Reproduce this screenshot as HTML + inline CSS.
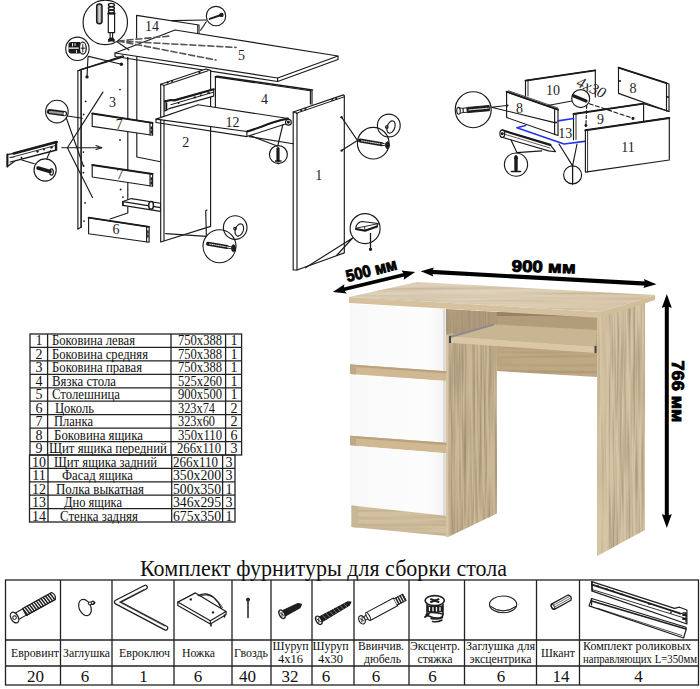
<!DOCTYPE html>
<html><head><meta charset="utf-8">
<style>
html,body{margin:0;padding:0;background:#fff;width:700px;height:689px;overflow:hidden}
svg{position:absolute;left:0;top:0}
.s{font-family:"Liberation Serif",serif;fill:#111}
.b{font-family:"Liberation Sans",sans-serif;font-weight:bold;fill:#000;stroke:#000;stroke-width:0.9px}
</style></head><body>
<svg width="700" height="689" viewBox="0 0 700 689">
<!-- ===== BOTTOM HARDWARE TABLE ===== -->
<g id="hw" stroke="#222" stroke-width="1.3" fill="none">
<rect x="5.5" y="580" width="693" height="105"/>
<path d="M5.5 640H698.5M5.5 666H698.5"/>
<path d="M60.5 580V685M112 580V685M174 580V685M232 580V685M271 580V685M312 580V685M354 580V685M409 580V685M464.5 580V685M536.5 580V685M579.5 580V685"/>
</g>
<text class="s" x="140" y="576" font-size="23" textLength="367" lengthAdjust="spacingAndGlyphs">Комплект фурнитуры для сборки стола</text>
<g class="s" font-size="12.5">
<text x="11" y="656.8" textLength="48" lengthAdjust="spacingAndGlyphs">Евровинт</text>
<text x="63" y="656.8" textLength="47" lengthAdjust="spacingAndGlyphs">Заглушка</text>
<text x="119" y="656.8" textLength="51" lengthAdjust="spacingAndGlyphs">Евроключ</text>
<text x="182" y="656.8" textLength="33" lengthAdjust="spacingAndGlyphs">Ножка</text>
<text x="234" y="656.8" textLength="34" lengthAdjust="spacingAndGlyphs">Гвоздь</text>
<text x="272.5" y="650" textLength="36" lengthAdjust="spacingAndGlyphs">Шуруп</text>
<text x="278" y="662.5">4x16</text>
<text x="312.5" y="650" textLength="36" lengthAdjust="spacingAndGlyphs">Шуруп</text>
<text x="318" y="662.5">4x30</text>
<text x="358" y="650" textLength="46" lengthAdjust="spacingAndGlyphs">Ввинчив.</text>
<text x="364" y="662.5" textLength="37" lengthAdjust="spacingAndGlyphs">дюбель</text>
<text x="410" y="650" textLength="50" lengthAdjust="spacingAndGlyphs">Эксцентр.</text>
<text x="417.5" y="662.5" textLength="35" lengthAdjust="spacingAndGlyphs">стяжка</text>
<text x="466" y="650" textLength="69" lengthAdjust="spacingAndGlyphs">Заглушка для</text>
<text x="469.5" y="662.5" textLength="62" lengthAdjust="spacingAndGlyphs">эксцентрика</text>
<text x="541" y="656.8" textLength="34" lengthAdjust="spacingAndGlyphs">Шкант</text>
<text x="583" y="650" textLength="108" lengthAdjust="spacingAndGlyphs">Комплект роликовых</text>
<text x="583" y="662.5" textLength="114" lengthAdjust="spacingAndGlyphs">направляющих L=350мм</text>
</g>
<g class="s" font-size="17" text-anchor="middle">
<text x="35.5" y="681.5">20</text>
<text x="85" y="681.5">6</text>
<text x="143.5" y="681.5">1</text>
<text x="198" y="681.5">6</text>
<text x="247.5" y="681.5">40</text>
<text x="290" y="681.5">32</text>
<text x="326" y="681.5">6</text>
<text x="376" y="681.5">6</text>
<text x="432.5" y="681.5">6</text>
<text x="501" y="681.5">6</text>
<text x="561" y="681.5">14</text>
<text x="638.5" y="681.5">4</text>
</g>
<!-- ===== HARDWARE ICONS ===== -->
<g id="icons" stroke="#1e1e1e" stroke-width="1" fill="none" stroke-linejoin="round" stroke-linecap="round">
<!-- euro screw -->
<g transform="translate(14.1 617.8) rotate(-29)">
<path d="M2 -3.6H12V3.6H2Z" fill="#fff" stroke-width="1.1"/>
<path d="M12 -3.9H45Q48 0 45 3.9H12Z" fill="#fff" stroke-width="1.2"/>
<path d="M12.0 -3.8L13.2 3.8M14.6 -3.8L15.8 3.8M17.2 -3.8L18.4 3.8M19.8 -3.8L21.0 3.8M22.4 -3.8L23.6 3.8M25.0 -3.8L26.2 3.8M27.6 -3.8L28.8 3.8M30.2 -3.8L31.4 3.8M32.8 -3.8L34.0 3.8M35.4 -3.8L36.6 3.8M38.0 -3.8L39.2 3.8M40.6 -3.8L41.8 3.8M43.2 -3.8L44.4 3.8" stroke-width="1.5"/>
<ellipse cx="0.5" cy="0" rx="3.6" ry="5.8" fill="#fff" stroke-width="1.3"/>
<circle cx="0.5" cy="0" r="1.8" stroke-width="1"/>
</g>
<!-- plug -->
<ellipse cx="85" cy="607.5" rx="5.8" ry="8.5" transform="rotate(-25 85 607.5)" stroke-width="1.2"/>
<path d="M89.5 603.5L92.8 602.8" stroke-width="3.4" />
<path d="M89.5 603.5L92.8 602.8" stroke-width="1.4" stroke="#fff"/>
<circle cx="93" cy="602.8" r="1.8" stroke-width="1"/>
<!-- allen key -->
<path d="M145.3 587.3L116.5 602.1L165.7 628.1" stroke-width="5.2"/>
<path d="M145.3 587.3L116.5 602.1L165.7 628.1" stroke-width="2.8" stroke="#fff"/>
<path d="M144 589.5L119.5 602.1L164.5 626" stroke-width="0.7"/>
<!-- leg (nozhka) -->
<path d="M177.8 602.1L195.4 592.9L226 611.4L210.3 620.7Z" fill="#fff" stroke-width="1.2"/>
<path d="M177.8 602.1V605.5L210.3 624V620.7M210.3 624L226 614.8V611.4" stroke-width="1.2"/>
<path d="M198.2 595.6Q212 589 221.4 608.6" stroke-width="1.2"/>
<path d="M200 596Q213 591 222.5 607.5" stroke-width="0.8"/>
<g fill="#1e1e1e" stroke="none"><circle cx="190.8" cy="599.4" r="1.2"/><circle cx="213" cy="612.4" r="1.2"/></g>
<path d="M211 624v2M224.5 615v2" stroke-width="1.6"/>
<!-- nail -->
<path d="M248 600V617.5" stroke-width="1.5"/>
<circle cx="248" cy="599.6" r="1.5" fill="#1e1e1e"/>
<!-- screw 4x16 -->
<g transform="translate(282 614.2) rotate(-27)">
<ellipse cx="0" cy="0" rx="2.6" ry="4.6" fill="#fff" stroke-width="1.3"/>
<path d="M-1 -2L1 2M1 -2L-1 2" stroke-width="0.8"/>
<path d="M2.6 -3L19 -2.4L22 0L19 2.4L2.6 3Z" fill="#1e1e1e"/>
</g>
<!-- screw 4x30 -->
<g transform="translate(318.8 620.3) rotate(-29.5)">
<ellipse cx="0" cy="0" rx="2.6" ry="4.6" fill="#fff" stroke-width="1.3"/>
<path d="M-1 -2L1 2M1 -2L-1 2" stroke-width="0.8"/>
<path d="M2.6 -2.8L34 -2L37 0L34 2L2.6 2.8Z" fill="#1e1e1e"/>
<path d="M6 -2L7 2M10 -2L11 2M14 -2L15 2M18 -2L19 2M22 -2L23 2M26 -2L27 2M30 -2L31 2" stroke="#aaa" stroke-width="0.6"/>
</g>
<!-- dowel vvinchiv -->
<g transform="translate(362 619.8) rotate(-28)">
<ellipse cx="0" cy="0" rx="3" ry="4.4" fill="#fff" stroke-width="1.2"/>
<path d="M-1.2 -2L1.2 2M1.2 -2L-1.2 2" stroke-width="0.8"/>
<path d="M3 -2H7V2H3" />
<path d="M7 -4.4H38V4.4H7Z" fill="#fff" stroke-width="1.1"/>
<ellipse cx="7" cy="0" rx="1.4" ry="4.4" fill="#fff"/>
<path d="M38 -3.5H48V3.5H38" fill="#fff"/>
<path d="M40 -3.5V3.5M42.5 -3.5V3.5M45 -3.5V3.5M47.5 -3.5V3.5" stroke-width="1.5"/>
</g>
<!-- eccentric -->
<path d="M427 604.5V613.5M443 604.5V614" stroke-width="1.6"/>
<path d="M427 605.5H443V612H427Z" fill="#1a1a1a" stroke="none"/>
<path d="M429.5 607.5V610.5M433 607.5V611M436.5 607.5V611M440 607.5V610.5" stroke="#fff" stroke-width="1.3"/>
<path d="M426 615L430 612.5Q436 612 443 614Q443 617 440 618Q434 618.5 430 616.5Z" fill="#fff" stroke-width="1.6"/>
<path d="M431 618.5Q437 620 442.5 617.5M432.5 621.5Q438 622.5 442 620" stroke-width="1.5"/>
<path d="M425 617L428.5 614.5" stroke-width="2"/>
<ellipse cx="434.7" cy="600.6" rx="9.6" ry="5" fill="#fff" stroke-width="1.6"/>
<path d="M431 599.3L438.5 601.9M431 601.9L438.5 599.3" stroke-width="2.1"/>
<!-- cap for eccentric -->
<ellipse cx="503.1" cy="604.4" rx="13.6" ry="8.4" stroke-width="1.1"/>
<path d="M490 606Q503 616 516.5 606" stroke-width="1"/>
<path d="M491 607Q503 615 515.5 607" stroke-width="0.6"/>
<!-- shkant -->
<g transform="translate(552.9 606.8) rotate(-29)">
<path d="M0 -3H19Q22 0 19 3H0Q-3 0 0 -3Z" fill="#fff" stroke-width="1.3"/>
<ellipse cx="0" cy="0" rx="1.4" ry="3" stroke-width="1"/>
<path d="M2 -1H19M2 1H19" stroke-width="0.6"/>
</g>
<!-- runners -->
<path d="M591.6 581.6L674.5 608.4L679.5 607.2L686.9 610V624L592.4 591.1Z" fill="#fff" stroke-width="1.2"/>
<path d="M592 584.6L680 613.3" stroke-width="1.8"/>
<path d="M592 589.5L685 618.2" stroke-width="0.9"/>
<path d="M592 582V591" stroke-width="1.4"/>
<g fill="#1e1e1e" stroke="none"><circle cx="598" cy="586" r="0.9"/><rect x="605" y="588.5" width="3" height="1.6"/><circle cx="613" cy="591" r="0.9"/><rect x="620" y="593.5" width="3" height="1.6"/><rect x="648" y="603" width="3" height="1.6"/><circle cx="671" cy="612.5" r="0.9"/></g>
<path d="M680 614L683 613H686V622" stroke-width="1.3"/>
<path d="M683 615h3M683 619h3" stroke-width="1.8"/>
<path d="M591.6 598.5L686 627.3V630L683.6 638L589.1 605.9Z" fill="#fff" stroke-width="1.2"/>
<path d="M591.6 601L686 628.9" stroke-width="1.6"/>
<path d="M598 608.4L681.9 635.5" stroke-width="0.8"/>
<path d="M591.6 598.5V605" stroke-width="1.2"/>
</g>
<!-- ===== PARTS TABLE ===== -->
<g stroke="#222" stroke-width="1.3" fill="none">
<rect x="30" y="334" width="211.6" height="121"/>
<path d="M30 347.4H241.6M30 360.9H241.6M30 374.3H241.6M30 387.8H241.6M30 401.2H241.6M30 414.7H241.6M30 428.1H241.6M30 441.6H241.6"/>
<path d="M47.6 334V455M171 334V455M225.6 334V455"/>
<rect x="29.5" y="455" width="205.5" height="67"/>
<path d="M29.5 468.4H235M29.5 481.8H235M29.5 495.2H235M29.5 508.6H235"/>
<path d="M48 455V522M171.7 455V522M222.6 455V522"/>
</g>
<g class="s" font-size="14">
<g text-anchor="middle">
<text x="39" y="345">1</text><text x="39" y="358.5">2</text><text x="39" y="372">3</text><text x="39" y="385.5">4</text><text x="39" y="399">5</text><text x="39" y="412.5">6</text><text x="39" y="426">7</text><text x="39" y="439.5">8</text><text x="39" y="453">9</text>
<text x="39" y="466.5">10</text><text x="39" y="480">11</text><text x="39" y="493.5">12</text><text x="39" y="507">13</text><text x="39" y="520.5">14</text>
<text x="234" y="345">1</text><text x="234" y="358.5">1</text><text x="234" y="372">1</text><text x="234" y="385.5">1</text><text x="234" y="399">1</text><text x="234" y="412.5">2</text><text x="234" y="426">2</text><text x="234" y="439.5">6</text><text x="234" y="453">3</text>
<text x="229" y="466.5">3</text><text x="229" y="480">3</text><text x="229" y="493.5">1</text><text x="229" y="507">3</text><text x="229" y="520.5">1</text>
</g>
<text x="52" y="345" textLength="83" lengthAdjust="spacingAndGlyphs">Боковина левая</text>
<text x="52" y="358.5" textLength="96" lengthAdjust="spacingAndGlyphs">Боковина средняя</text>
<text x="52" y="372" textLength="90" lengthAdjust="spacingAndGlyphs">Боковина правая</text>
<text x="52" y="385.5" textLength="64" lengthAdjust="spacingAndGlyphs">Вязка стола</text>
<text x="52" y="399" textLength="68" lengthAdjust="spacingAndGlyphs">Столешница</text>
<text x="55" y="412.5" textLength="39" lengthAdjust="spacingAndGlyphs">Цоколь</text>
<text x="54" y="426" textLength="39" lengthAdjust="spacingAndGlyphs">Планка</text>
<text x="54" y="439.5" textLength="89" lengthAdjust="spacingAndGlyphs">Боковина ящика</text>
<text x="49" y="453" textLength="118" lengthAdjust="spacingAndGlyphs">Щит ящика передний</text>
<text x="54" y="466.5" textLength="103" lengthAdjust="spacingAndGlyphs">Щит ящика задний</text>
<text x="62" y="480" textLength="71" lengthAdjust="spacingAndGlyphs">Фасад ящика</text>
<text x="56" y="493.5" textLength="88" lengthAdjust="spacingAndGlyphs">Полка выкатная</text>
<text x="64" y="507" textLength="58" lengthAdjust="spacingAndGlyphs">Дно ящика</text>
<text x="60" y="520.5" textLength="78" lengthAdjust="spacingAndGlyphs">Стенка задняя</text>
<text x="178" y="345" textLength="44" lengthAdjust="spacingAndGlyphs">750x388</text>
<text x="178" y="358.5" textLength="44" lengthAdjust="spacingAndGlyphs">750x388</text>
<text x="178" y="372" textLength="44" lengthAdjust="spacingAndGlyphs">750x388</text>
<text x="178" y="385.5" textLength="44" lengthAdjust="spacingAndGlyphs">525x260</text>
<text x="178" y="399" textLength="44" lengthAdjust="spacingAndGlyphs">900x500</text>
<text x="178" y="412.5" textLength="37" lengthAdjust="spacingAndGlyphs">323x74</text>
<text x="178" y="426" textLength="37" lengthAdjust="spacingAndGlyphs">323x60</text>
<text x="178" y="439.5" textLength="44" lengthAdjust="spacingAndGlyphs">350x110</text>
<text x="177" y="453" textLength="44" lengthAdjust="spacingAndGlyphs">266x110</text>
<text x="173" y="466.5" textLength="45" lengthAdjust="spacingAndGlyphs">266x110</text>
<text x="173" y="480" textLength="48" lengthAdjust="spacingAndGlyphs">350x200</text>
<text x="173" y="493.5" textLength="48" lengthAdjust="spacingAndGlyphs">500x350</text>
<text x="173" y="507" textLength="48" lengthAdjust="spacingAndGlyphs">346x295</text>
<text x="173" y="520.5" textLength="48" lengthAdjust="spacingAndGlyphs">675x350</text>
</g>
<!-- ===== DESK PHOTO ===== -->
<defs>
<linearGradient id="gTop" x1="0" y1="0" x2="1" y2="0.3">
<stop offset="0" stop-color="#dccdb3"/><stop offset="0.5" stop-color="#e0d3bc"/><stop offset="1" stop-color="#d8c7a9"/>
</linearGradient>
<pattern id="grainV" width="13" height="40" patternUnits="userSpaceOnUse">
<rect width="13" height="40" fill="none"/>
<rect x="1" width="1.2" height="40" fill="#a08b66" opacity="0.08"/>
<rect x="5" width="2" height="40" fill="#fff" opacity="0.07"/>
<rect x="9" width="1" height="40" fill="#8c7655" opacity="0.07"/>
</pattern>
<pattern id="grainH" width="40" height="5" patternUnits="userSpaceOnUse" patternTransform="rotate(3.5)">
<rect y="1" width="40" height="1" fill="#a08b66" opacity="0.06"/>
<rect y="3" width="40" height="1.2" fill="#fff" opacity="0.06"/>
</pattern>
<filter id="grainF" x="0" y="0" width="1" height="1" color-interpolation-filters="sRGB">
<feTurbulence type="fractalNoise" baseFrequency="0.45 0.012" numOctaves="2" seed="7"/>
<feColorMatrix type="matrix" values="0 0 0 0 0.40  0 0 0 0 0.34  0 0 0 0 0.25  1.5 0 0 0 -0.55"/>
</filter>
<filter id="grainH2" x="0" y="0" width="1" height="1" color-interpolation-filters="sRGB">
<feTurbulence type="fractalNoise" baseFrequency="0.006 0.3" numOctaves="2" seed="11"/>
<feColorMatrix type="matrix" values="0 0 0 0 0.45  0 0 0 0 0.37  0 0 0 0 0.25  1.4 0 0 0 -0.58"/>
</filter>
<clipPath id="cRLeg"><polygon points="597,313 645,300 645,530 597,556"/></clipPath>
<clipPath id="cMLeg"><polygon points="446,309 497,312 497,513.6 448,537 446,537"/></clipPath>
<clipPath id="cTop"><polygon points="349,297 417,282 655,295 601,312"/></clipPath>
<clipPath id="cPl"><polygon points="351.5,505.5 446,515.7 446,536 351.5,527"/></clipPath>
<clipPath id="cMod"><polygon points="497,330 597,330 597,377 497,371"/></clipPath>
<linearGradient id="gWhite" x1="0" y1="0" x2="1" y2="0">
<stop offset="0" stop-color="#f8f8f8"/><stop offset="0.8" stop-color="#fdfdfd"/><stop offset="0.975" stop-color="#f4f4f4"/><stop offset="0.98" stop-color="#d6d6d6"/><stop offset="1" stop-color="#dadada"/>
</linearGradient>
</defs>
<g id="desk">
<!-- right leg -->
<polygon points="597,313 645,300 645,530 597,556" fill="#d5c3a3"/>
<rect x="597" y="300" width="48" height="256" filter="url(#grainF)" clip-path="url(#cRLeg)" opacity="0.55"/>
<polygon points="597,313 609,311 609,550 597,556" fill="#dac8a8" opacity="0.5"/>

<!-- kneespace back/modesty panel -->
<polygon points="497,312 597,314 597,377 497,371" fill="#bfa985"/>
<polygon points="497,312 597,314 597,317 497,316" fill="#978266"/>
<polygon points="497,316 597,317 597,330 497,325" fill="#b29d7b"/>
<rect x="497" y="330" width="100" height="48" filter="url(#grainH2)" clip-path="url(#cMod)" opacity="0.4"/>
<!-- middle leg -->
<polygon points="446,309 497,312 497,513.6 448,537 446,537" fill="#cbb897"/>
<rect x="446" y="309" width="51" height="228" filter="url(#grainF)" clip-path="url(#cMLeg)" opacity="0.6"/>
<polygon points="446,309 497,312 497,336 446,333" fill="#9c8769" opacity="0.55"/>
<polygon points="445.7,335 448.5,335 448.5,537 445.7,537" fill="#d6c4a3"/>
<!-- keyboard shelf -->
<polygon points="450,336 494,324.5 597,330 595.5,346.6" fill="#c8b592"/>
<polygon points="449.8,336.3 595.5,346.6 595.5,353 449.8,342.7" fill="#dac7a5"/>
<line x1="450" y1="337" x2="494" y2="324.5" stroke="#8c8c8c" stroke-width="2"/>
<rect x="449" y="336" width="2" height="7" fill="#444"/>
<rect x="594.5" y="346" width="2" height="7" fill="#444"/>
<!-- desktop -->
<polygon points="349,297 417,282 655,295 601,312" fill="url(#gTop)"/>
<rect x="349" y="282" width="306" height="30" filter="url(#grainH2)" clip-path="url(#cTop)" opacity="0.35"/>
<polygon points="349,297 601,312 601,318 349,303" fill="#d5c19e"/>
<polygon points="601,312 655,295 655,300 601,318" fill="#d2bd99"/>
<!-- pedestal drawers -->
<polygon points="350,304 445.5,309.3 445.5,371.3 350,364.4" fill="url(#gWhite)"/>
<polygon points="350,364.4 446.3,371.3 446.3,381 350,374" fill="#cfb892"/>
<polygon points="350,364.4 446.3,371.3 446.3,373.5 350,366.5" fill="#b8a27d"/>
<polygon points="350,364.4 356,364.8 356,374.5 350,374" fill="#bea887"/>
<polygon points="350,374.8 445.5,381 445.5,442.8 350,435.8" fill="url(#gWhite)"/>
<polygon points="350,435.8 446.3,442.8 446.3,453.2 350,445.4" fill="#cfb892"/>
<polygon points="350,435.8 446.3,442.8 446.3,445 350,438" fill="#b8a27d"/>
<polygon points="350,435.8 356,436.2 356,445.8 350,445.4" fill="#bea887"/>
<polygon points="350,445.4 445.5,453.2 445.5,515.7 350,505.5" fill="url(#gWhite)"/>
<polygon points="351.5,505.5 446,515.7 446,536 351.5,527" fill="#d2c0a0"/>
<rect x="351" y="505" width="95" height="32" filter="url(#grainH2)" clip-path="url(#cPl)" opacity="0.4"/>
<polygon points="351.5,505.5 358,506.2 358,527.7 351.5,527" fill="#c9b696"/>
</g>
<!-- dimension arrows -->
<g fill="#000" stroke="none">
<path d="M343.0,289.5 L405.1,274.5" stroke="#000" stroke-width="3.8"/>
<polygon points="332.9,292.0 346.7,293.6 343.6,289.4 344.4,284.3"/>
<polygon points="415.2,272.0 403.7,279.7 404.5,274.6 401.4,270.4"/>
<path d="M431.1,271.9 L646.1,283.7" stroke="#000" stroke-width="4.2"/>
<polygon points="420.7,271.3 433.4,276.5 431.7,271.9 433.9,267.5"/>
<polygon points="656.5,284.3 643.3,288.1 645.5,283.7 643.8,279.1"/>
<path d="M666.8,305.2 L666.8,516.8" stroke="#000" stroke-width="4.0"/>
<polygon points="666.8,294.0 661.8,308.0 666.8,306.0 671.8,308.0"/>
<polygon points="666.8,528.0 661.8,514.0 666.8,516.0 671.8,514.0"/>
</g>
<text class="b" font-size="16.5" transform="translate(347.5,282) rotate(-14.2)" textLength="52" lengthAdjust="spacingAndGlyphs">500 мм</text>
<text class="b" font-size="16.5" transform="translate(511.5,271.4) rotate(1.8)" textLength="64" lengthAdjust="spacingAndGlyphs">900 мм</text>
<text class="b" font-size="16.5" transform="translate(671.5,360.5) rotate(90)" textLength="62" lengthAdjust="spacingAndGlyphs">766 мм</text>

<!-- ===== EXPLODED DIAGRAM ===== -->
<g id="diag" stroke="#1a1a1a" stroke-width="1.15" fill="none" stroke-linejoin="round" stroke-linecap="round">
<!-- panel 14 back wall -->
<path d="M136.6 38V15.4L199 25V34"/>
<path d="M197.5 25.5V34" stroke-width="0.8"/>
<path d="M136.8 57V157L160.5 161.7"/>
<!-- desktop 5 -->
<path d="M115 53L175 30L338 56L277.6 78Z" fill="#fff"/>
<path d="M115 53V56.5L277.6 81.5V78M277.6 81.5L338 59.5V56"/>
<path d="M118 41L170 36M118 41L236 47.4M118 41L216 60" stroke-dasharray="6 3" stroke-width="1.6" stroke="#555"/>
<path d="M116 41L129 50"/>
<!-- panel 3 left side -->
<path d="M77.9 229V70.7L122.9 55.7" />
<path d="M81.1 227V69.5L123.5 56.7" stroke-width="1.6"/>
<path d="M77.9 70.7L81.1 69.5M77.9 229L81.5 227"/>
<path d="M127.8 57.5V213L110 219"/>
<path d="M127.6 57.5V 60"/>
<!-- panel 3 holes -->
<g fill="#1e1e1e" stroke="none">
<circle cx="121.4" cy="64.3" r="1.7"/><circle cx="87" cy="76.9" r="1.7"/>
<circle cx="120" cy="89.6" r="0.9"/><circle cx="85.7" cy="101.4" r="0.9"/><circle cx="83.6" cy="114.5" r="0.9"/>
<circle cx="120" cy="140" r="0.9"/><circle cx="83.4" cy="152.1" r="0.9"/><circle cx="83.4" cy="172.7" r="0.9"/>
<circle cx="120.6" cy="189.5" r="0.9"/><circle cx="85.1" cy="202.9" r="0.9"/><circle cx="84" cy="221.1" r="0.9"/>
<circle cx="122.9" cy="197.1" r="0.9"/><circle cx="83.6" cy="166" r="0.9"/>
</g>
<!-- panel 7 upper -->
<path d="M92.2 113.5L152.6 122.9V135.3L92.2 126.4Z" fill="#fff"/>
<path d="M92.2 113.5L152.6 122.9" stroke-width="1.8"/>
<path d="M150 122.5V135"/>
<path d="M151.3 127v2M151.3 131v2" stroke-width="1.5"/>
<!-- panel 7 lower -->
<path d="M92.2 165L152.6 174V186.3L92.2 177Z" fill="#fff"/>
<path d="M92.2 165L152.6 174" stroke-width="1.8"/>
<path d="M150 173.6V186"/>
<path d="M151.3 178v2M151.3 182v2" stroke-width="1.5"/>
<!-- panel 6 -->
<path d="M88.6 217.7L149.1 226.9V242.2L88.6 233.7Z" fill="#fff"/>
<path d="M88.6 217.7L149.1 226.9" stroke-width="1.8"/>
<path d="M146.6 226.5V242"/>
<path d="M147.9 231v2M147.9 235v2" stroke-width="1.5"/>
<!-- plinth rail piece -->
<path d="M122.9 201.6L131.4 198.6L160.5 203.3V211.4L122.9 205.4Z" fill="#fff" stroke-width="1.1"/>
<path d="M122.9 201.6L160.5 207.6" stroke-width="1.1"/>
<path d="M122.9 201.6V205.4" stroke-width="1.6"/>
<ellipse cx="151.1" cy="205.4" rx="2.3" ry="3.8" fill="#fff" stroke-width="1.5"/>
<!-- panel 2 middle -->
<path d="M160.7 242V84.2L206 69L210.6 70.4V226.4L160.7 242" fill="#fff"/>
<path d="M164 240.5V85.5" />
<path d="M160.7 84.2L164 85.5" />
<path d="M164 85.5L208 70.8"/>
<g fill="#1a1a1a" stroke="none"><circle cx="167.6" cy="82.6" r="1.1"/><circle cx="172" cy="81.1" r="1.1"/><circle cx="199.5" cy="72.2" r="1.1"/></g>
<!-- runner on panel 2 -->
<path d="M164.9 101.3L170.9 100L174.3 100.4L213.7 89.3V96.1L169.1 108.6L164.9 111.1Z" fill="#fff" stroke-width="1.1"/>
<path d="M164.9 101.3L170.9 100L174.3 100.4L213.7 89.3" stroke-width="2.2"/>
<path d="M170.9 104.7L213 92.3" stroke-width="1"/>
<path d="M166.5 103V110" stroke-width="1.6"/>
<g fill="#1e1e1e" stroke="none"><circle cx="178.6" cy="103" r="1"/><rect x="193.5" y="96.5" width="2.6" height="1.8"/><circle cx="200.8" cy="95.3" r="1"/><rect x="207.3" y="92.2" width="2.6" height="1.8"/></g>
<!-- panel 2 lower hook and line -->
<path d="M165.7 233.6L206.4 236.4L205.7 210.7L207 210"/>
<!-- panel 4 -->
<path d="M215.4 106.6V76.9L312 91V104.2"/>
<path d="M215.4 76.9L217 76.2L312.5 90" stroke-width="1.6"/>
<path d="M310.4 91V104"/>
<!-- shelf 12 -->
<path d="M156 119.1L198 104.7L288 118.5L246.9 131.5Z" fill="#fff"/>
<path d="M156 119.1V122.5L246.9 136.6"/>
<path d="M246.9 131.5L246.9 136.6L285.4 124.1L288 118.5Q270 123 262 126.5Q252 130 246.9 131.5Z" fill="#fff" stroke-width="1.1"/>
<path d="M246.9 131.5Q252 130 262 126.5Q272 122 288 118.5" stroke-width="2"/>
<circle cx="288.4" cy="122.2" r="2.9" fill="#fff" stroke-width="1.2"/>
<circle cx="288.4" cy="122.2" r="0.9" fill="#1e1e1e"/>
<!-- panel 1 right side -->
<path d="M293.2 270V112L343.4 94.9L344.3 95.5V252.9L297 270H293.2" fill="#fff"/>
<path d="M297 270V113.3"/>
<path d="M293.2 112L297 113.3"/>
<path d="M296.5 113.2L344.3 96.8" stroke-width="1"/>
<g fill="#1a1a1a" stroke="none"><circle cx="301.3" cy="110.6" r="1.1"/><circle cx="305.5" cy="109.2" r="1.1"/><circle cx="332.4" cy="100" r="1.1"/><circle cx="336.2" cy="98.7" r="1.1"/></g>
<!-- line from shelf 12 to panel 1 -->
<path d="M249.4 136.6L293.1 143.8"/>
<!-- screw circle at shelf -->
<circle cx="278.4" cy="154.6" r="9"/>
<path d="M277.2 146L251.1 136.1M277.7 146L282.8 125"/>
<path d="M278 148.5V161" stroke-width="3.2"/>
<path d="M275.5 161H281" stroke-width="1.4"/>
<!-- panel 1 screw circle lines -->
<path d="M357.4 140.4L341.6 117.2M357.4 140.4L341.6 150.6"/>
<g fill="#1e1e1e" stroke="none"><circle cx="341.6" cy="117.2" r="1.2"/><circle cx="341.6" cy="150.6" r="1.2"/></g>
<circle cx="388.8" cy="125.5" r="11.4"/>
<circle cx="373.2" cy="143.2" r="15.8"/>
<path d="M360 140.5L382 144.2" stroke-width="4"/>
<path d="M361.5 140.8L381 144" stroke-width="1" stroke="#ddd" stroke-dasharray="1.2 1"/>
<path d="M382 144.2L386 145" stroke-width="2.6"/>
<path d="M382 144.2L386 145" stroke-width="1" stroke="#fff"/>
<ellipse cx="387.5" cy="145.3" rx="1.8" ry="3.5" fill="#1e1e1e" stroke-width="1"/>
<ellipse cx="391" cy="127" rx="3.8" ry="6.3" transform="rotate(20 391 127)"/>
<circle cx="386.8" cy="127" r="1.3"/>
<!-- panel 1 bottom lines to leg circle -->
<path d="M305.4 267.8L352.6 238M336.6 255.5L352.6 238"/>
<circle cx="365.1" cy="228.6" r="15"/>
<path d="M356 226.5Q358 222 362 221.5L378 223.5L377 226.5L365 230.5L356 229Z" fill="#fff" stroke-width="1.2"/>
<path d="M357 228L364.5 226.5L377.5 223.8M364.5 226.5L365 230.5" stroke-width="0.9"/>
<path d="M356 229L365 230.8L377 226.5" stroke-width="2"/>
<path d="M370.5 233.5V249" stroke-width="1.3"/>
<circle cx="370.5" cy="249.3" r="1.1" fill="#1a1a1a"/>
<!-- panel 2 euro screw circle and plug -->
<circle cx="235.2" cy="227.5" r="11.8"/>
<ellipse cx="239.3" cy="230" rx="4" ry="6.3" transform="rotate(20 239.3 230)"/>
<circle cx="235" cy="228.6" r="1.3"/>
<circle cx="219.5" cy="246.2" r="16.5"/>
<path d="M208 243.8L227 247" stroke-width="4"/>
<path d="M209.5 244L226 246.8" stroke-width="1" stroke="#ddd" stroke-dasharray="1.2 1"/>
<path d="M227 247L232 247.9" stroke-width="2.6"/>
<path d="M227 247L232 247.9" stroke-width="1" stroke="#fff"/>
<ellipse cx="233.5" cy="248.2" rx="1.8" ry="3.5" fill="#1e1e1e" stroke-width="1"/>
<!-- big circle top -->
<circle cx="105.3" cy="22.4" r="22.2" fill="#fff"/>
<rect x="96.7" y="4.1" width="5.3" height="19.6" rx="2.4" fill="#aaa" stroke-width="1.5"/>
<path d="M99.3 6V22" stroke="#ddd" stroke-width="1"/>
<path d="M108.3 13.7V32.6H114.6V13.7Z" fill="#fff" stroke-width="1.2"/>
<ellipse cx="111.4" cy="5" rx="3" ry="1.6" stroke-width="1.4"/>
<ellipse cx="111.4" cy="8.3" rx="3" ry="1.6" stroke-width="1.4"/>
<ellipse cx="111.4" cy="11.6" rx="3" ry="1.6" stroke-width="1.4"/>
<path d="M108.3 13.4H114.6" stroke-width="2"/>
<path d="M110.1 32.6V38.4M112.6 32.6V38.4"/>
<path d="M108.8 41.5V39.5Q111.4 37 114 39.5V41.5" fill="#1a1a1a" stroke-width="1.4"/>
<!-- eccentric circle -->
<circle cx="77.4" cy="48.8" r="11.7" fill="#fff"/>
<path d="M68.5 44Q69 42 71 42H80V53.5H71Q69 53.5 68.5 51.5Z" fill="#1a1a1a" stroke="none"/>
<path d="M69 48.2H80" stroke="#fff" stroke-width="1.3"/>
<path d="M72.5 43.5V46M76.5 50.5V52.5M75 43.5V45.5" stroke="#fff" stroke-width="0.9"/>
<ellipse cx="82.8" cy="48.2" rx="3.4" ry="6" fill="#fff" stroke-width="1.3"/>
<path d="M82.8 44.5V52M81 48.2H84.6" stroke-width="1"/>
<path d="M88 57L87 77M88.6 56.4L121.4 64.3"/>
<!-- dowel circle -->
<circle cx="56.9" cy="111.6" r="11.3"/>
<path d="M49.5 111.7L64.5 113.7" stroke-width="5.2"/>
<path d="M50 111.8L62 113.3" stroke-width="2.2" stroke="#999"/>
<ellipse cx="64.6" cy="113.7" rx="1.2" ry="1.8" fill="#fff" stroke="none"/>
<path d="M67.4 116L82.3 118.3M66.3 118L83.4 166"/>
<!-- left bracket + screw -->
<path d="M7.4 154.6L13.7 153.4L56.6 142V150L14.9 160.9L7.4 166.6Z" fill="#fff" stroke-width="1.3"/>
<path d="M13.7 153.4L56.6 142" stroke-width="2.6"/>
<path d="M14.5 156.5L55.5 145.5" stroke-width="0.9"/>
<path d="M7.4 154.6V166.6" stroke-width="2"/>
<path d="M10 157.5L14 156.8M10 162L14 161" stroke-width="1.2"/>
<path d="M55.8 142.5V149.5" stroke-width="1.8"/>
<g fill="#1a1a1a" stroke="none"><circle cx="21.5" cy="157.8" r="1"/><circle cx="37.5" cy="151.5" r="1.2"/><circle cx="44" cy="149.6" r="1"/><circle cx="51.5" cy="147.4" r="1.2"/></g>
<path d="M34.3 163.7L21.7 160M46.9 158.6L50.3 150.6"/>
<circle cx="45.1" cy="170" r="11.1"/>
<path d="M38 168L50 171.5" stroke-width="3.6"/>
<ellipse cx="51.5" cy="172" rx="1.8" ry="3.2" stroke-width="1.2"/>
<!-- fan lines -->
<path d="M61.7 147.7H101.7M67.4 147.7L102.9 92.1M67.4 147.7L92.5 197.5"/>
<path d="M101.7 147.7L96 145.5M101.7 147.7L96 149.5"/>

<!-- top nail circle -->
<circle cx="216" cy="16" r="9.7"/>
<path d="M209.7 18.9L221 15" stroke-width="2"/>
<circle cx="221.5" cy="14.9" r="1.6" fill="#1e1e1e"/>
<path d="M171.4 20.6L206.3 20M206.3 21.7L200.6 30.3"/>
<!-- labels -->
<g fill="#1e1e1e" stroke="none" font-family="Liberation Serif" font-size="14" text-anchor="middle">
<text x="152" y="30.5">14</text>
<text x="241.5" y="60">5</text>
<text x="112.5" y="107">3</text>
<text x="264.5" y="104">4</text>
<text x="232.5" y="127">12</text>
<text x="185.7" y="146.5">2</text>
<text x="119.2" y="128.8">7</text>
<text x="120" y="178.7">7</text>
<text x="116" y="234">6</text>
<text x="318.7" y="179.5">1</text>
</g>
</g>

<!-- ===== DRAWER DIAGRAM ===== -->
<g id="drawer" stroke="#1a1a1a" stroke-width="1.15" fill="none" stroke-linejoin="round" stroke-linecap="round">
<!-- panel 10 back -->
<path d="M525.5 96V80.6L595.3 70.3V96.9" fill="#fff"/>
<path d="M525.5 80.6L595.3 70.3" stroke-width="1.8"/>
<path d="M528 80.5V96" stroke-width="0.9"/>
<!-- panel 13 back edge -->
<path d="M547.8 105.5L572 101"/>
<!-- panel 8 right -->
<path d="M618.5 67.7L669 84V111.5L618.5 93.4Z" fill="#fff"/>
<path d="M618.5 67.7L666.5 83.2" stroke-width="1.8"/>
<path d="M666.5 83.2V111"/>
<g fill="#1e1e1e" stroke="none"><circle cx="620" cy="81" r="1.1"/><circle cx="667.8" cy="97" r="1.1"/></g>
<!-- panel 9 -->
<path d="M573.5 139.7V114L643.6 103.6V121.4" fill="#fff"/>
<path d="M573.5 114L643.6 103.6" stroke-width="1.8"/>
<path d="M576 113.6V139.5" stroke-width="0.9"/>
<path d="M643.6 103.6L669 111.5"/>
<!-- panel 8 left -->
<path d="M506.6 91.7L558 109.7V135.5L506.6 117.5Z" fill="#fff"/>
<path d="M506.6 91.7L558 109.7" stroke-width="1.8"/>
<path d="M508.5 90.8L558 108" stroke-width="0.8"/>
<path d="M554.6 108.5V134.5"/>
<g fill="#1e1e1e" stroke="none"><circle cx="507.5" cy="105.5" r="1.1"/><circle cx="556" cy="122.5" r="1.1"/></g>
<!-- blue bottom 13 -->
<path d="M516.9 127.7L525.5 125.5M516.9 127.7L564 144L584.6 141.4M558 120.9L573.5 118.5" stroke="#2233ee" stroke-width="1.6"/>
<!-- panel 11 front -->
<path d="M585.4 130.3L669.3 117.9V160L585.4 172.1Z" fill="#fff"/>
<path d="M585.4 130.3L669.3 117.9" stroke-width="2"/>
<path d="M587.6 130V172" stroke-width="0.9"/>
<!-- screw circle left -->
<circle cx="473.2" cy="109.7" r="18" fill="#fff"/>
<g transform="translate(458.5 110.8) rotate(-5)">
<ellipse cx="0" cy="0" rx="1.8" ry="3.4" fill="#fff" stroke-width="1.1"/>
<path d="M1.5 -2.6L5 -2V2L1.5 2.6" stroke-width="0.9"/>
<path d="M5 -2.2H9V2.2H5Z" fill="#fff" stroke-width="0.9"/>
<path d="M9 -2.6H31V2.6H9Z" fill="#1a1a1a" stroke-width="0.9"/>
<path d="M10.5 0H30" stroke="#ccc" stroke-width="1.2" stroke-dasharray="1.2 0.9"/>
</g>
<path d="M491.2 107.2L506.6 105.5M491.2 107.2L554.6 122.6"/>
<!-- runner -->
<path d="M502.3 130.3L550.3 144.9L555.5 151.7L548.6 150.9L502 137.2Z" fill="#fff" stroke-width="1.1"/>
<path d="M502.3 130.3L550.3 144.9" stroke-width="2.2"/>
<path d="M504 134L550 148" stroke-width="0.7"/>
<ellipse cx="502.3" cy="133.7" rx="2.4" ry="3.6" fill="#fff" stroke-width="1.2"/>
<circle cx="502.3" cy="133.7" r="0.9" fill="#1a1a1a"/>
<path d="M510.9 139.7L516.9 152.6L541.7 150.9"/>
<circle cx="516" cy="164.6" r="11.6"/>
<path d="M516 157V170" stroke-width="3.4"/>
<path d="M516 155.5L514.5 158.5H517.5Z" fill="#1e1e1e"/>
<path d="M511.5 171.5H520.5" stroke-width="1.6"/>
<!-- nail circle -->
<path d="M572.6 165.9L559 144M572.6 165.9L577 144"/>
<circle cx="572.6" cy="174.9" r="9"/>
<path d="M572.6 166V184" stroke-width="1.3"/>
<!-- small screw 4x30 circle -->
<circle cx="580.7" cy="98.6" r="9" fill="#fff"/>
<path d="M574 96L586 101" stroke-width="3.2"/>
<path d="M589.3 103.7L633 118.3" stroke-dasharray="4 2.5"/>
<circle cx="633" cy="118.3" r="1" fill="#1e1e1e"/>
<path d="M586.7 105.5L585.9 125.2" stroke-dasharray="3 2"/>
<circle cx="585.9" cy="125.5" r="0.9" fill="#1e1e1e"/>
<g fill="#1e1e1e" stroke="none" font-family="Liberation Serif" font-size="14" text-anchor="middle">
<text x="519.5" y="112.5">8</text>
<text x="553" y="94.5">10</text>
<text x="633" y="92.5">8</text>
<text x="600.5" y="123.5">9</text>
<text x="627.9" y="152">11</text>
<text x="565.3" y="138">13</text>
<text font-style="italic" font-size="15.5" text-anchor="start" transform="translate(575.5 85.8) rotate(25)">4x30</text>
</g>
</g>

</svg>
</body></html>
